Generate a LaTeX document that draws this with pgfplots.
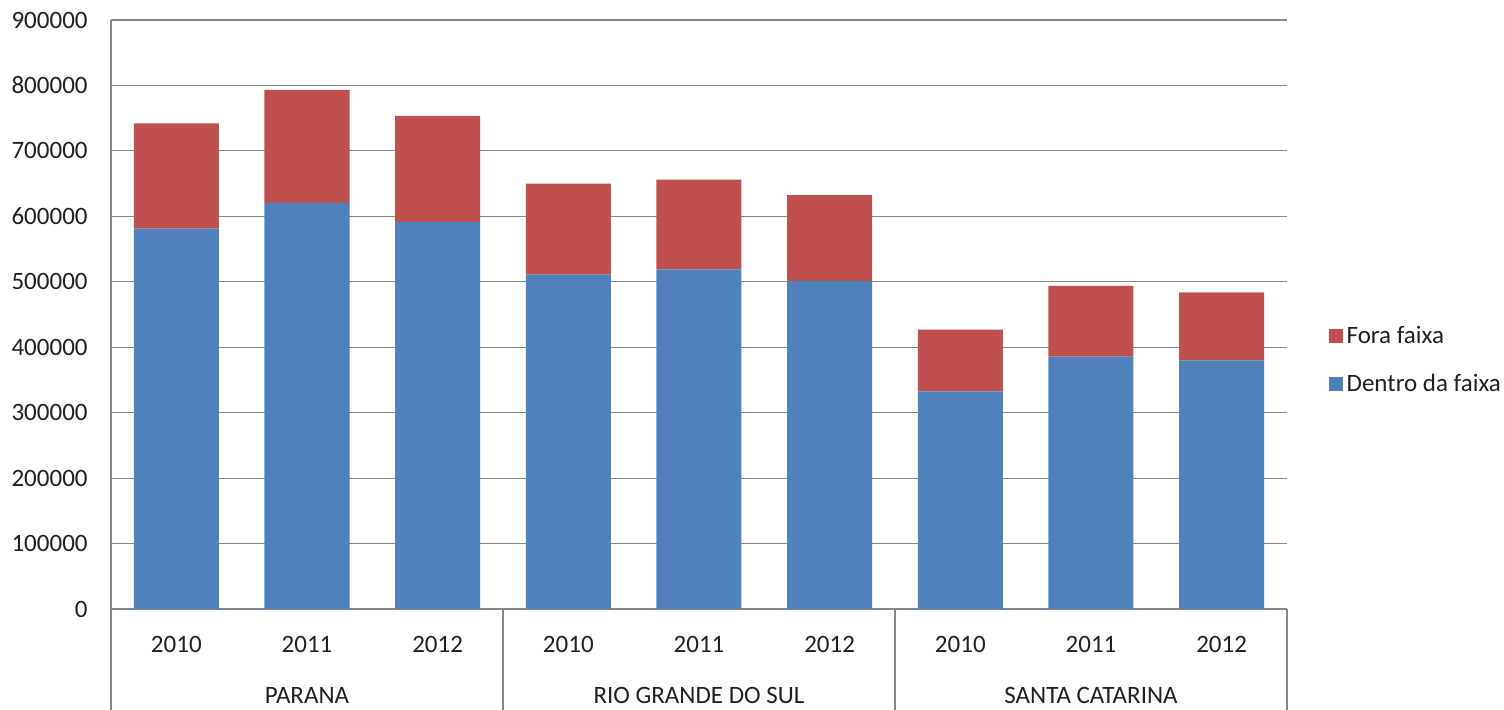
\documentclass[border=0pt]{standalone}
\usepackage{pgfplots}
\pgfplotsset{compat=1.18}
\usepackage{fontspec}
\setmainfont{Carlito}
\definecolor{cblue}{HTML}{4F81BD}
\definecolor{cred}{HTML}{C0504D}
\definecolor{cgrid}{HTML}{878787}
\definecolor{ctext}{HTML}{202020}
\begin{document}
\fontsize{12.5}{15}\selectfont
\begin{tikzpicture}
\path[use as bounding box] (0,0) rectangle (752pt,355pt);
\begin{axis}[
 at={(55.5pt,50.5pt)}, anchor=south west,
 scale only axis, width=588pt, height=294.5pt,
 ybar stacked, bar width=42.5pt,
 xmin=-0.5, xmax=8.5, ymin=0, ymax=900000,
 ytick={0,100000,200000,300000,400000,500000,600000,700000,800000,900000},
 xtick={0,1,2,3,4,5,6,7,8},
 xticklabels={2010,2011,2012,2010,2011,2012,2010,2011,2012},
 axis lines*=left, axis line style={cgrid, line width=0.6pt},
 ymajorgrids, grid style={cgrid, line width=0.6pt},
 major tick length=0pt,
 scaled y ticks=false,
 clip=false,
 /pgf/number format/assume math mode=true,
 yticklabel style={/pgf/number format/fixed, /pgf/number format/1000 sep={}, anchor=east, inner sep=0pt, xshift=-11.5pt},
 xticklabel style={anchor=center, inner sep=0pt, yshift=-17.5pt},
 every tick label/.append style={font=\fontsize{12.5}{15}\selectfont, text=ctext},
 reverse legend,
 legend style={draw=none, fill=none, at={(1.03,0.422)}, anchor=west, font=\fontsize{12.5}{15}\selectfont, text=ctext, row sep=9.5pt, cells={anchor=west}},
 legend image code/.code={\fill[#1] (0pt,-3.5pt) rectangle (7pt,3.5pt);},
]
\addplot[fill=cblue, draw=none] coordinates {(0,581100) (1,620400) (2,591400) (3,510900) (4,519100) (5,501200) (6,332700) (7,385500) (8,380000)};
\addlegendentry{Dentro da faixa}
\addplot[fill=cred, draw=none] coordinates {(0,161100) (1,172700) (2,162000) (3,139000) (4,136900) (5,131400) (6,94100) (7,108100) (8,104000)};
\addlegendentry{Fora faixa}
\draw[cgrid, line width=0.6pt] (axis cs:-0.5,0) -- ([yshift=-50.5pt]axis cs:-0.5,0);
\draw[cgrid, line width=0.6pt] (axis cs:2.5,0) -- ([yshift=-50.5pt]axis cs:2.5,0);
\draw[cgrid, line width=0.6pt] (axis cs:5.5,0) -- ([yshift=-50.5pt]axis cs:5.5,0);
\draw[cgrid, line width=0.6pt] (axis cs:8.5,0) -- ([yshift=-50.5pt]axis cs:8.5,0);
\node[text=ctext, inner sep=0pt] at ([yshift=-43pt]axis cs:1,0) {PARANA};
\node[text=ctext, inner sep=0pt] at ([yshift=-43pt]axis cs:4,0) {RIO GRANDE DO SUL};
\node[text=ctext, inner sep=0pt] at ([yshift=-43pt]axis cs:7,0) {SANTA CATARINA};
\end{axis}
\end{tikzpicture}
\end{document}
